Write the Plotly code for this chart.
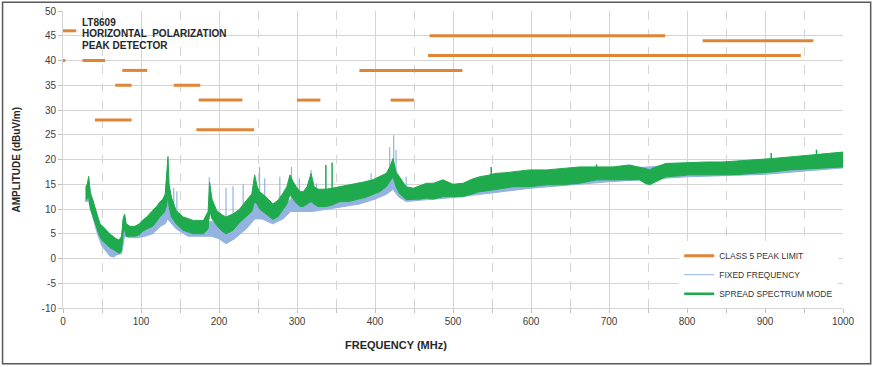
import plotly.graph_objects as go

# ---------------- data ----------------
# Class 5 peak limit segments: start MHz, end MHz, level dBuV/m
LIMIT_START = [0, 0, 25, 76, 67, 41, 142, 174, 171, 300, 380, 420, 470, 468, 820]
LIMIT_END = [17, 3, 54, 108, 88, 88, 176, 230, 245, 330, 512, 450, 772, 946, 962]
LIMIT_LEVEL = [46, 40, 40, 38, 35, 28, 35, 32, 26, 32, 38, 32, 45, 41, 44]

# Spread spectrum mode (green) envelope
GREEN_FREQ = [29, 31, 33, 35, 38, 41, 44, 47, 51, 55, 60, 64, 68, 72, 75, 77, 79, 81, 86, 92,
              98, 102, 108, 115, 120, 124, 128, 131, 133, 134.6, 136, 139, 145, 154, 167, 180,
              186, 188, 191, 197, 204, 209, 218, 226, 235, 242, 245.7, 249, 252, 260, 269, 276,
              282, 287, 291, 295, 299, 304, 308, 313, 318, 322, 327, 337, 345, 355, 366, 376,
              387, 397, 406, 414.5, 419, 423, 427, 431, 440, 449, 458, 466, 475, 487, 500, 513,
              524, 534, 545, 555, 566, 577, 598, 620, 641, 662, 684, 705, 726, 739, 746, 752,
              760, 773, 790, 803, 825, 846, 868, 889, 910, 931, 952, 974, 990, 1000]
GREEN_LOW = [11.7, 12.0, 12.5, 10.0, 9.0, 7.5, 6.0, 4.5, 3.5, 3.0, 2.2, 1.8, 1.5, 1.0, 1.5, 5.0,
             6.0, 4.5, 4.5, 4.5, 4.8, 5.5, 6.0, 6.5, 7.5, 8.4, 9.0, 9.7, 11.0, 13.0, 10.5, 8.4,
             7.0, 5.7, 5.0, 5.0, 6.0, 9.7, 8.0, 6.7, 5.5, 5.0, 5.7, 7.2, 8.4, 9.5, 11.5, 11.0,
             10.0, 9.0, 7.9, 8.5, 9.9, 11.0, 12.9, 12.0, 11.2, 10.5, 10.5, 11.0, 11.5, 11.0,
             10.5, 10.5, 10.8, 11.5, 11.5, 11.9, 12.3, 12.9, 13.5, 14.5, 15.5, 16.5, 14.5, 13.2,
             11.9, 11.9, 12.0, 12.2, 12.0, 12.5, 12.5, 12.5, 13.0, 13.5, 13.7, 13.9, 14.2, 14.5,
             14.5, 14.9, 14.9, 15.2, 15.9, 15.9, 15.9, 15.9, 15.2, 14.9, 15.5, 16.5, 16.7, 16.9,
             16.9, 16.9, 17.0, 17.2, 17.5, 17.9, 18.0, 18.2, 18.4, 18.5]
GREEN_HIGH = [14.4, 15.0, 16.6, 13.0, 12.0, 10.5, 9.0, 7.0, 6.5, 5.8, 5.0, 4.5, 4.0, 3.7, 4.5,
              8.0, 9.0, 7.0, 6.5, 6.5, 7.0, 7.7, 8.5, 9.7, 10.5, 11.4, 12.0, 13.0, 17.0, 20.6,
              15.0, 12.4, 9.7, 8.4, 7.7, 7.7, 9.5, 15.4, 12.0, 9.7, 8.8, 8.4, 9.0, 9.9, 11.7,
              13.0, 16.9, 14.5, 13.5, 12.5, 11.0, 11.8, 13.2, 14.5, 16.9, 15.5, 14.5, 13.5, 13.5,
              14.5, 17.2, 14.5, 14.0, 14.0, 14.2, 14.5, 14.8, 15.2, 15.5, 15.9, 16.5, 17.2, 18.5,
              20.2, 17.5, 16.5, 14.5, 14.2, 14.8, 15.2, 15.2, 15.9, 15.0, 15.2, 16.0, 16.5, 16.8,
              17.2, 17.3, 17.5, 17.9, 17.9, 18.2, 18.5, 18.5, 18.5, 18.9, 18.5, 18.2, 17.9, 18.5,
              19.2, 19.3, 19.5, 19.5, 19.5, 19.7, 19.9, 20.2, 20.5, 20.8, 21.2, 21.3, 21.5]

# Fixed frequency (blue) envelope
BLUE_FREQ = [29, 33, 38, 44, 50, 55, 60, 65, 70, 75, 79, 85, 95, 105, 115, 125, 131, 134, 137,
             145, 160, 180, 190, 200, 209, 220, 235, 246, 255, 269, 282, 292, 300, 320, 340,
             360, 380, 400, 415, 423, 430, 440, 460, 500, 600, 700, 800, 900, 1000]
BLUE_LOW = [11.5, 11.5, 8.5, 5.0, 2.5, 1.5, 0.5, 0.3, 0.8, 1.0, 4.5, 4.2, 4.2, 4.5, 5.0, 6.5,
            7.0, 8.0, 7.5, 6.0, 4.5, 4.5, 4.5, 4.0, 3.0, 4.0, 6.0, 8.0, 8.0, 7.0, 8.0, 9.5, 9.5,
            9.5, 10.0, 10.5, 11.0, 12.0, 13.0, 14.0, 12.5, 11.5, 11.8, 12.3, 14.2, 15.5, 16.5,
            17.0, 18.3]
BLUE_HIGH = [14.0, 15.5, 11.5, 8.5, 6.0, 4.5, 3.5, 3.0, 3.2, 4.0, 7.5, 6.0, 6.0, 7.0, 8.0, 9.0,
             10.0, 12.0, 10.0, 8.5, 7.0, 7.0, 7.5, 7.0, 6.5, 7.0, 9.0, 11.5, 10.5, 9.5, 10.5,
             12.0, 11.5, 11.5, 12.0, 12.5, 13.0, 14.0, 15.5, 17.0, 15.0, 13.5, 14.0, 14.5, 17.0,
             18.0, 19.0, 19.5, 21.0]

# Narrow spikes
BLUE_SPIKE_FREQ = [142, 146, 187.5, 209, 218, 231, 252, 258.6, 278, 293, 303, 318, 325, 367.5,
                   395, 406, 418.8, 424, 427, 440]
BLUE_SPIKE_BASE = [9.0, 8.5, 8.0, 6.5, 7.0, 8.0, 11.0, 10.0, 9.5, 11.0, 10.5, 11.0, 11.0, 12.0,
                   13.5, 14.0, 15.0, 15.5, 15.0, 13.5]
BLUE_SPIKE_PEAK = [14.3, 13.6, 16.4, 14.3, 14.6, 15.0, 18.5, 16.2, 16.5, 18.5, 16.2, 17.9, 15.2,
                   14.5, 17.2, 15.2, 22.5, 24.9, 21.9, 16.5]
GREEN_SPIKE_FREQ = [337, 345, 549, 684, 908, 966]
GREEN_SPIKE_BASE = [13.0, 13.0, 16.0, 17.5, 19.0, 20.0]
GREEN_SPIKE_PEAK = [18.9, 19.4, 18.5, 19.0, 21.3, 22.0]

X_TICKS = [0, 100, 200, 300, 400, 500, 600, 700, 800, 900, 1000]
Y_TICKS = [-10, -5, 0, 5, 10, 15, 20, 25, 30, 35, 40, 45, 50]
Y_TICK_TEXT = ["-10", "-5", "0", "5", "10", "15", "20", "25", "30", "35", "40", "45", "50"]
TITLE_LINES = ["LT8609", "HORIZONTAL  POLARIZATION", "PEAK DETECTOR"]

ORANGE = "#DF8536"
BLUE = "#94B3E0"
GREEN = "#1FAA4E"
NARROW = "Liberation Sans Narrow, Arial Narrow, Liberation Sans, Arial"
SANS = "Liberation Sans, Arial"


def segments(starts, ends, levels):
    xs, ys = [], []
    for a, b, v in zip(starts, ends, levels):
        xs += [a, b, None]
        ys += [v, v, None]
    return xs, ys


def spikes(freqs, bases, peaks):
    xs, ys = [], []
    for f, b, p in zip(freqs, bases, peaks):
        xs += [f, f, None]
        ys += [b, p, None]
    return xs, ys


fig = go.Figure()

# blue band
fig.add_trace(go.Scatter(
    x=BLUE_FREQ + BLUE_FREQ[::-1], y=BLUE_HIGH + BLUE_LOW[::-1],
    fill="toself", fillcolor=BLUE, line=dict(color=BLUE, width=1),
    mode="lines", showlegend=False, hoverinfo="skip"))
bx, by = spikes(BLUE_SPIKE_FREQ, BLUE_SPIKE_BASE, BLUE_SPIKE_PEAK)
fig.add_trace(go.Scatter(x=bx, y=by, mode="lines", line=dict(color=BLUE, width=1.2),
                         showlegend=False, hoverinfo="skip"))

# green band
fig.add_trace(go.Scatter(
    x=GREEN_FREQ + GREEN_FREQ[::-1], y=GREEN_HIGH + GREEN_LOW[::-1],
    fill="toself", fillcolor=GREEN, line=dict(color=GREEN, width=1),
    mode="lines", showlegend=False, hoverinfo="skip"))
gx, gy = spikes(GREEN_SPIKE_FREQ, GREEN_SPIKE_BASE, GREEN_SPIKE_PEAK)
fig.add_trace(go.Scatter(x=gx, y=gy, mode="lines", line=dict(color=GREEN, width=1.5),
                         showlegend=False, hoverinfo="skip"))

# limit segments
lx, ly = segments(LIMIT_START, LIMIT_END, LIMIT_LEVEL)
fig.add_trace(go.Scatter(x=lx, y=ly, mode="lines", line=dict(color=ORANGE, width=3),
                         name="CLASS 5 PEAK LIMIT", legendrank=1, hoverinfo="skip"))

# legend-only entries
fig.add_trace(go.Scatter(x=[None], y=[None], mode="lines", line=dict(color=BLUE, width=1),
                         name="FIXED FREQUENCY", legendrank=2))
fig.add_trace(go.Scatter(x=[None], y=[None], mode="lines", line=dict(color=GREEN, width=2.5),
                         name="SPREAD SPECTRUM MODE", legendrank=3))

title_annotations = [
    dict(text="<b>%s</b>" % line, xref="paper", yref="paper", x=0.0218, y=yy,
         xanchor="left", yanchor="middle", align="left", showarrow=False,
         font=dict(family=SANS, size=10, color="#262626"))
    for line, yy in zip(TITLE_LINES, [0.962, 0.923, 0.884])
]

fig.update_layout(
    width=874, height=367,
    margin=dict(l=63, r=31, t=11, b=59, autoexpand=False),
    paper_bgcolor="white", plot_bgcolor="white",
    font=dict(family=SANS, size=10, color="#404040"),
    legend=dict(x=0.79, y=0.225, xanchor="left", yanchor="top",
                bgcolor="white", borderwidth=0, itemwidth=30,
                font=dict(family=NARROW, size=8.5, color="#333333"),
                tracegroupgap=0),
    xaxis=dict(range=[0, 1000], tickvals=X_TICKS, showgrid=True, gridcolor="#d4d4d4",
               gridwidth=1, zeroline=False, showline=True, linecolor="#d4d4d4",
               ticks="outside", ticklen=4, tickcolor="#bfbfbf", automargin=False,
               tickfont=dict(family=NARROW, size=10, color="#404040"),
               minor=dict(dtick=50, showgrid=True, gridcolor="#d4d4d4", griddash="dash",
                          ticks="outside", ticklen=4, tickcolor="#bfbfbf")),
    yaxis=dict(range=[-10, 50], tickvals=Y_TICKS, ticktext=Y_TICK_TEXT, showgrid=True,
               gridcolor="#d4d4d4", gridwidth=1, zeroline=False, showline=True,
               linecolor="#d4d4d4", ticks="outside", ticklen=4, tickcolor="#bfbfbf",
               automargin=False, tickfont=dict(family=SANS, size=10, color="#404040")),
    annotations=title_annotations + [
        dict(text="<b>AMPLITUDE (dBuV/m)</b>", xref="paper", yref="paper",
             x=-0.059, y=0.5, xanchor="center", yanchor="middle", textangle=-90,
             showarrow=False, font=dict(family=SANS, size=10, color="#262626")),
        dict(text="<b>FREQUENCY (MHz)</b>", xref="paper", yref="paper",
             x=0.427, y=-0.098, xanchor="center", yanchor="top",
             showarrow=False, font=dict(family=NARROW, size=11, color="#262626")),
    ],
    shapes=[dict(type="rect", xref="paper", yref="paper",
                 x0=-0.0775, x1=1.0355, y0=-0.1875, y1=1.0295,
                 line=dict(color="#595959", width=1.5), fillcolor="rgba(0,0,0,0)")],
)

# remove the browser's default 8px body margin so the figure sits at the page origin
fig.write_html("out.html", config={"displayModeBar": False},
               post_script="document.body.style.margin='0';document.body.style.overflow='hidden';")
